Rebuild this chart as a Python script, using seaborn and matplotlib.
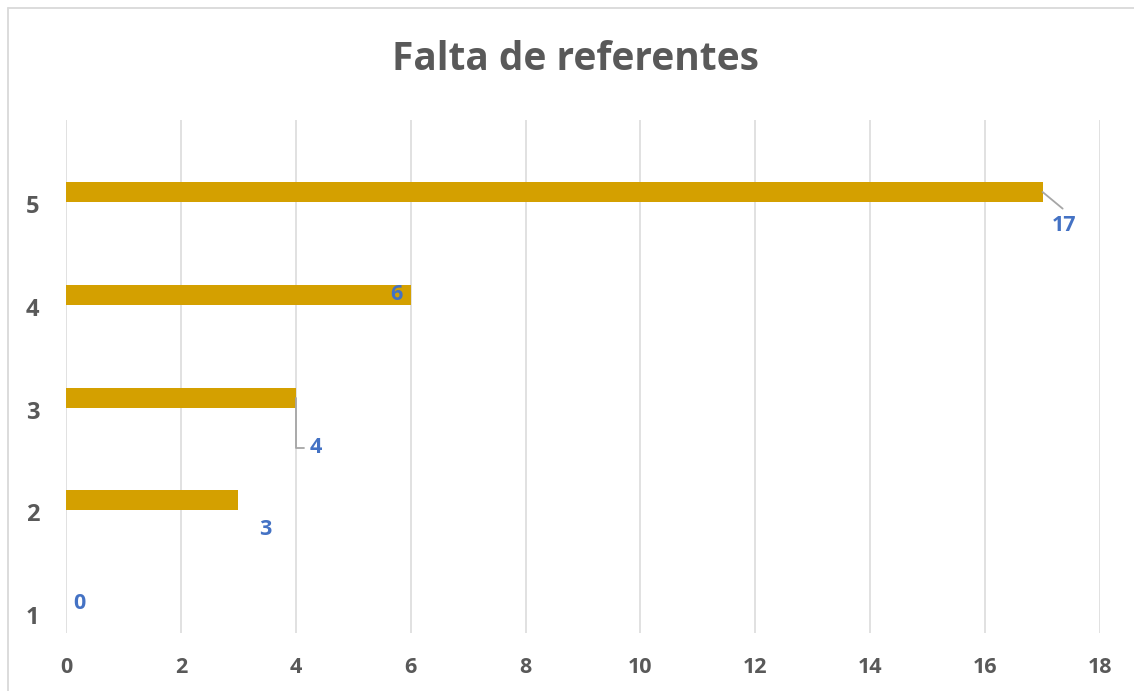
# horizontal bar chart: "Falta de referentes"
import pandas as pd
import matplotlib
matplotlib.use('Agg')
from matplotlib import pyplot as plt
from matplotlib.lines import Line2D
from matplotlib.transforms import ScaledTranslation
import seaborn as sns

#* data
categories = ['1', '2', '3', '4', '5']
values = [0, 3, 4, 6, 17]
x_ticks = [0, 2, 4, 6, 8, 10, 12, 14, 16, 18]
title = 'Falta de referentes'

BAR_COLOR = '#D4A000'
LABEL_BLUE = '#4472C4'
TEXT_GRAY = '#595959'
GRID_GRAY = '#D9D9D9'
LEADER_GRAY = '#A6A6A6'

sns.set_style('white')
plt.rcParams['font.family'] = ['Open Sans', 'DejaVu Sans']

df = pd.DataFrame({'categoria': categories, 'valor': values})
order = categories[::-1]  # 5 at the top

fig = plt.figure(figsize=(11.34, 6.91), dpi=100)
ax = fig.add_axes([66 / 1134, 1 - 633 / 691, 1034 / 1134, 513 / 691])

sns.barplot(data=df, x='valor', y='categoria', order=order, orient='h',
            color=BAR_COLOR, width=0.195, saturation=1, linewidth=0,
            ax=ax, zorder=3)

ax.set_xlim(0, 18)
ax.set_ylim(4.29, -0.70)
ax.set_xticks(x_ticks)
ax.set_xlabel('')
ax.set_ylabel('')
ax.grid(axis='x', color=GRID_GRAY, linewidth=1.1, zorder=0)
ax.grid(axis='y', visible=False)
for s in ax.spines.values():
    s.set_visible(False)

ax.tick_params(axis='x', length=0, pad=17, labelsize=15.5, labelcolor=TEXT_GRAY)
ax.tick_params(axis='y', length=0, pad=19, labelsize=17, labelcolor=TEXT_GRAY)
for lbl in ax.get_xticklabels() + ax.get_yticklabels():
    lbl.set_fontweight('bold')
# Excel put the category labels a bit below the bars
for lbl in ax.get_yticklabels():
    lbl.set_transform(lbl.get_transform() + ScaledTranslation(0, -0.12, fig.dpi_scale_trans))

#? data labels, offsets in pixels from the bar end
label_offsets = {'1': (13, 0), '2': (27, -29), '3': (20, -50), '4': (-14, 0), '5': (21, -34)}
val_by_cat = dict(zip(categories, values))
for pos, cat in enumerate(order):
    v = val_by_cat[cat]
    dx, dy = label_offsets[cat]
    kw = dict(xy=(v, pos), xytext=(dx, dy), textcoords='offset pixels',
              ha='center', va='center', fontsize=15.5, fontweight='bold',
              color=LABEL_BLUE, zorder=5)
    if cat == '5':
        kw['arrowprops'] = dict(arrowstyle='-', color=LEADER_GRAY, lw=1.3,
                                relpos=(0.8, 1.0), shrinkA=4, shrinkB=0)
    elif cat == '3':
        kw['arrowprops'] = dict(arrowstyle='-', color=LEADER_GRAY, lw=1.3,
                                relpos=(0.0, 0.5), shrinkA=2, shrinkB=0,
                                connectionstyle='angle,angleA=0,angleB=90,rad=0')
    ax.annotate(str(v), **kw)

fig.text(575 / 1134, 1 - 60 / 691, title, ha='center', va='center',
         fontsize=28, fontweight='bold', color=TEXT_GRAY)

# chart border (only top and left edge show in the crop)
fig.add_artist(Line2D([8 / 1134, 1], [1 - 8 / 691, 1 - 8 / 691], color=GRID_GRAY, lw=1.3))
fig.add_artist(Line2D([8 / 1134, 8 / 1134], [0, 1 - 8 / 691], color=GRID_GRAY, lw=1.3))

plt.savefig('out.png', dpi=100)
plt.close()
